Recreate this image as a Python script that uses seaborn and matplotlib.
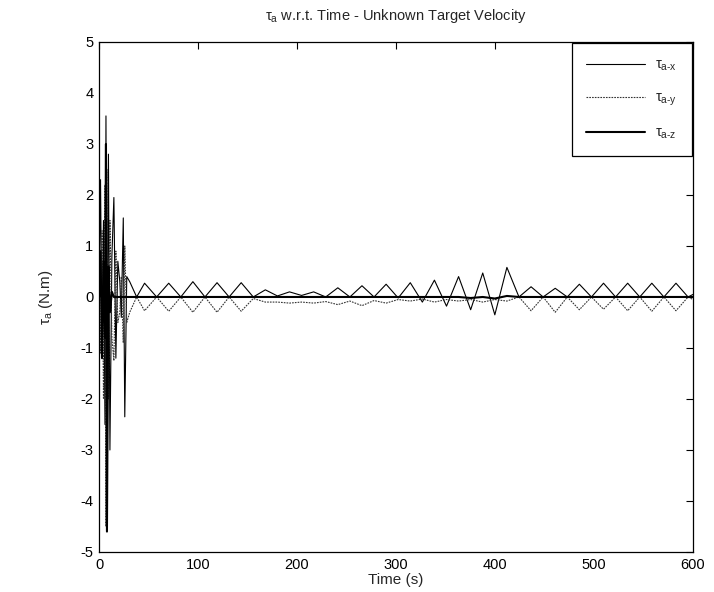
import matplotlib
matplotlib.use("Agg")
import matplotlib.pyplot as plt
import numpy as np
import pandas as pd
import seaborn as sns

# ---------------- data ----------------
time_s = [0, 1.5, 3, 4.5, 6, 7, 8, 9.5, 11, 13, 15, 17, 19, 21, 22.5, 24.5, 26, 28, 31, 38,
          46, 58.2, 70.4, 82.6, 94.8, 107, 119.2, 131.4, 143.6, 155.8, 168, 180.2, 192.4, 204.6,
          216.8, 229, 241.2, 253.4, 265.6, 277.8, 290, 302.2, 314.4, 326.6, 338.8, 351, 363.2,
          375.4, 387.6, 399.8, 412, 424.2, 436.4, 448.6, 460.8, 473, 485.2, 497.4, 509.6, 521.8,
          534, 546.2, 558.4, 570.6, 582.8, 595, 600]

tau_ax = [0, 2.3, -1.0, 1.5, -2.5, 3.55, -1.5, 2.8, -3.0, 0.8, 1.95, -1.2, 0.7, 0.3, -0.4, 1.55, -2.35, 0.4, 0.3, 0.0,
          0.27, 0.0, 0.27, 0.0, 0.30, 0.0, 0.28, 0.0, 0.28, 0.0, 0.14, 0.02, 0.10, 0.03,
          0.10, 0.0, 0.18, 0.0, 0.22, 0.0, 0.25, -0.02, 0.28, -0.10, 0.33, -0.18, 0.40,
          -0.25, 0.47, -0.35, 0.58, 0.0, 0.20, 0.0, 0.17, 0.0, 0.25, 0.0, 0.27, 0.0,
          0.27, 0.0, 0.27, 0.0, 0.27, 0.0, 0.05]

tau_ay = [0, -1.1, 1.3, -2.0, 2.2, -4.5, 2.5, -2.0, 1.5, -0.8, -1.25, 0.9, -0.5, -0.3, 0.4, -0.9, 1.0, -0.5, -0.3, 0.0,
          -0.27, 0.0, -0.28, 0.0, -0.30, 0.0, -0.30, 0.0, -0.28, -0.03, -0.10, -0.10, -0.12, -0.10,
          -0.12, -0.09, -0.15, -0.08, -0.17, -0.07, -0.12, -0.05, -0.08, -0.04, -0.10, -0.05, -0.08,
          -0.05, -0.10, -0.05, -0.08, 0.0, -0.27, 0.0, -0.30, 0.0, -0.25, 0.0, -0.24, 0.0,
          -0.27, 0.0, -0.28, 0.0, -0.27, 0.0, -0.05]

tau_az = [0, 0.9, -1.2, 0.7, -0.8, 3.0, -4.6, 0.6, -0.3, 0.1, 0.0, 0.0, 0.0, 0.0, 0.0, 0.0, 0.0, 0.0, 0.0, 0.0,
          0.0, 0.0, 0.0, 0.0, 0.0, 0.0, 0.0, 0.0, 0.0, 0.0, 0.0, 0.0, 0.0, 0.0,
          0.0, 0.0, 0.0, 0.0, 0.0, 0.0, 0.0, 0.0, 0.0, 0.0, 0.0, 0.0, 0.0,
          -0.02, 0.0, -0.03, 0.02, 0.0, 0.0, 0.0, 0.0, 0.0, 0.0, 0.0, 0.0, 0.0,
          0.0, 0.0, 0.0, 0.0, 0.0, 0.0, 0.0]

series_labels = [r"$\tau_{a\text{-}x}$", r"$\tau_{a\text{-}y}$", r"$\tau_{a\text{-}z}$"]
x_ticks = [0, 100, 200, 300, 400, 500, 600]
y_ticks = [-5, -4, -3, -2, -1, 0, 1, 2, 3, 4, 5]

# ---------------- style ----------------
sns.set_theme(style="white")
plt.rcParams["font.family"] = ["Liberation Sans", "DejaVu Sans"]
plt.rcParams["mathtext.fontset"] = "custom"
plt.rcParams["mathtext.rm"] = "Liberation Sans"
plt.rcParams["mathtext.it"] = "Liberation Sans"
plt.rcParams["mathtext.bf"] = "Liberation Sans:bold"

fig = plt.figure(figsize=(7.14, 5.92), dpi=100)
ax = fig.add_axes([0.1387, 0.0676, 0.8319, 0.8615])

df = pd.DataFrame({"t": time_s, "x": tau_ax, "y": tau_ay, "z": tau_az})

sns.lineplot(data=df, x="t", y="x", ax=ax, color="black", linewidth=0.8,
             estimator=None, sort=False, label=series_labels[0])
sns.lineplot(data=df, x="t", y="y", ax=ax, color="#333333", linewidth=0.8,
             linestyle=(0, (1.5, 1.0)), estimator=None, sort=False, label=series_labels[1])
sns.lineplot(data=df, x="t", y="z", ax=ax, color="black", linewidth=1.5,
             estimator=None, sort=False, label=series_labels[2])

ax.set_xlim(0, 600)
ax.set_ylim(-5, 5)
ax.set_xticks(x_ticks)
ax.set_yticks(y_ticks)
ax.set_xticklabels([str(v) for v in x_ticks])
ax.set_yticklabels([str(v) for v in y_ticks])
ax.tick_params(direction="in", length=5, width=0.8, top=True, right=True,
               labelsize=10.5, colors="black", pad=4)
for sp in ax.spines.values():
    sp.set_visible(True)
    sp.set_color("black")
    sp.set_linewidth(0.9)

ax.set_xlabel("Time (s)", fontsize=11, labelpad=1)
ax.set_ylabel(r"$\tau_a$ (N.m)", fontsize=11, labelpad=18)
ax.set_title(r"$\tau_a$ w.r.t. Time - Unknown Target Velocity", fontsize=10.5, pad=16)

leg = ax.legend(loc="upper right", borderaxespad=0.1, fontsize=10.5, frameon=True,
                fancybox=False, edgecolor="black", handlelength=4.0, labelspacing=1.2,
                borderpad=1.0, handletextpad=0.7)
leg.get_frame().set_linewidth(0.9)
leg.get_frame().set_alpha(1)

fig.savefig("out.png", dpi=100, facecolor="white")
